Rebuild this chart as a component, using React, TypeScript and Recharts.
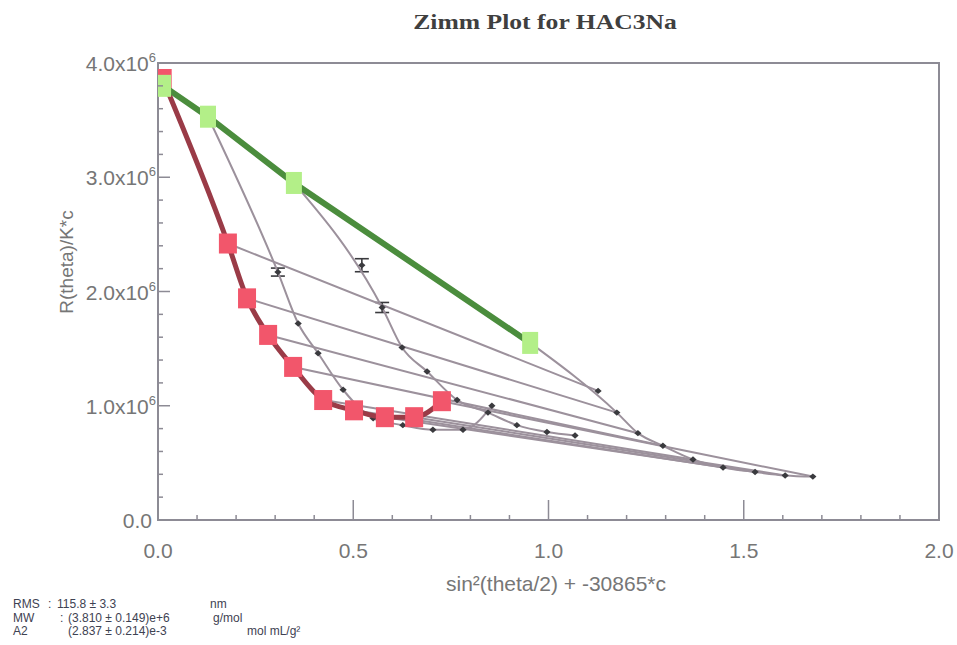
import React from 'react';
import { ComposedChart, Scatter, XAxis, YAxis, ReferenceArea, ErrorBar } from 'recharts';

// x = sin²(θ/2) + k·c,  y = R(θ)/K·c in units of 10⁶

// c → 0 extrapolation: intercept first, then one value per scattering angle
const zeroConcX = [0.012, 0.179, 0.228, 0.282, 0.346, 0.423, 0.502, 0.581, 0.656, 0.727];
const zeroConcY = [3.86, 2.42, 1.94, 1.62, 1.34, 1.05, 0.96, 0.9, 0.9, 1.04];

// θ → 0 extrapolation: intercept first, then one value per concentration
const zeroAngleX = [0.013, 0.128, 0.348, 0.953];
const zeroAngleY = [3.8, 3.53, 2.95, 1.55];

// measured points, nine angles for each of the three concentrations
const conc1X = [0.307, 0.359, 0.41, 0.474, 0.551, 0.627, 0.704, 0.781, 0.855];
const conc1Y = [2.17, 1.72, 1.46, 1.14, 0.89, 0.83, 0.79, 0.79, 1.0];
const conc1Err = [0.035, 0, 0, 0, 0, 0, 0, 0, 0];

const conc2X = [0.522, 0.574, 0.625, 0.689, 0.766, 0.845, 0.919, 0.996, 1.068];
const conc2Y = [2.23, 1.86, 1.51, 1.3, 1.05, 0.94, 0.83, 0.77, 0.74];
const conc2Err = [0.057, 0.044, 0, 0, 0, 0, 0, 0, 0];

const conc3X = [1.127, 1.175, 1.229, 1.293, 1.37, 1.447, 1.529, 1.606, 1.677];
const conc3Y = [1.13, 0.94, 0.76, 0.65, 0.53, 0.46, 0.42, 0.39, 0.38];
const conc3Err = [0, 0, 0, 0, 0, 0, 0, 0, 0];

// first angle used by each concentration fit (earlier angles were left out of the fit)
const concFitFirstAngle = [0, 1, 1];

// axis ticks
const xTicks = [0, 0.1, 0.2, 0.3, 0.4, 0.5, 0.6, 0.7, 0.8, 0.9, 1, 1.1, 1.2, 1.3, 1.4, 1.5, 1.6, 1.7, 1.8, 1.9, 2];
const xMajorTicks = [0, 0.5, 1, 1.5, 2];
const xTickLabels = ['0.0', '0.5', '1.0', '1.5', '2.0'];
const yTicks = [0, 0.2, 0.4, 0.6, 0.8, 1, 1.2, 1.4, 1.6, 1.8, 2, 2.2, 2.4, 2.6, 2.8, 3, 3.2, 3.4, 3.6, 3.8, 4];
const yMajorTicks = [0, 1, 2, 3, 4];
const yTickLabels = ['0.0', '1.0', '2.0', '3.0', '4.0'];
const yExponent = '6';

const TITLE = 'Zimm Plot for HAC3Na';
const X_LABEL = 'sin²(theta/2) + -30865*c';
const Y_LABEL = 'R(theta)/K*c';

const FRAME = '#8d8b95';
const FIT_GRAY = '#9c919c';
const POINT_DARK = '#3a3a3e';
const RED_FILL = '#f2566b';
const RED_LINE = '#9a3b47';
const GREEN_FILL = '#b3ef88';
const GREEN_LINE = '#4b8d3d';
const TICK_TEXT = '#767676';
const SANS = '"Liberation Sans", Arial, sans-serif';

type Pt = { x: number; y: number; e: number };
const zip = (xs: number[], ys: number[], es?: number[]): Pt[] =>
  xs.map((x, i) => ({ x, y: ys[i], e: es ? es[i] : 0 }));

const zeroConc = zip(zeroConcX, zeroConcY);
const zeroAngle = zip(zeroAngleX, zeroAngleY);
const conc = [zip(conc1X, conc1Y, conc1Err), zip(conc2X, conc2Y, conc2Err), zip(conc3X, conc3Y, conc3Err)];

// constant-concentration fits start at their θ → 0 point
const concFits = conc.map((pts, j) => [zeroAngle[j + 1], ...pts.slice(concFitFirstAngle[j])]);
// constant-angle fits run from their c → 0 point to the highest concentration
const angleFits = conc[2].map((p, i) => [zeroConc[i + 1], p]);
const allPoints = conc.flat();
const errPoints = allPoints.filter((p) => p.e > 0);

const noShape = () => <g />;
const dotShape = (p: any) => (
  <path
    d={`M${p.cx - 3.6},${p.cy} L${p.cx},${p.cy - 3.2} L${p.cx + 3.6},${p.cy} L${p.cx},${p.cy + 3.2} Z`}
    fill={POINT_DARK}
  />
);
const redSquare = (p: any) => (
  <rect x={p.cx - 9} y={p.cy - 10} width={18} height={20} fill={RED_FILL} />
);
const greenSquare = (p: any) => (
  <rect x={p.cx - 8} y={p.cy - 11} width={16} height={22} fill={GREEN_FILL} />
);

const XTick = (props: any) => {
  const { x, y, payload } = props;
  const v = payload.value;
  const idx = xMajorTicks.indexOf(v);
  const major = idx >= 0;
  return (
    <g>
      <line x1={x} x2={x} y1={y} y2={y - (major ? 20 : 5)} stroke={FRAME} strokeWidth={1.5} />
      {major && (
        <text x={x} y={y + 38} textAnchor="middle" fill={TICK_TEXT} fontSize={21} fontFamily={SANS}>
          {xTickLabels[idx]}
        </text>
      )}
    </g>
  );
};

const YTick = (props: any) => {
  const { x, y, payload } = props;
  const v = payload.value;
  const idx = yMajorTicks.indexOf(v);
  const major = idx >= 0;
  return (
    <g>
      <line x1={x} x2={x + (major ? 12 : 5)} y1={y} y2={y} stroke={FRAME} strokeWidth={1.5} />
      {major &&
        (v === 0 ? (
          <text x={x - 6} y={y + 8} textAnchor="end" fill={TICK_TEXT} fontSize={21} fontFamily={SANS}>
            {yTickLabels[idx]}
          </text>
        ) : (
          <text x={x - 2} y={y + 8} textAnchor="end" fill={TICK_TEXT} fontSize={21} fontFamily={SANS}>
            {yTickLabels[idx]}x10
            <tspan dy={-9} fontSize={13}>
              {yExponent}
            </tspan>
          </text>
        ))}
    </g>
  );
};

const statRows = [
  { name: 'RMS', sep: ':', sepX: 48, value: '115.8 ± 3.3', valueX: 57, unit: 'nm', unitX: 210 },
  { name: 'MW', sep: ':', sepX: 60, value: '(3.810 ± 0.149)e+6', valueX: 68, unit: 'g/mol', unitX: 213 },
  { name: 'A2', sep: '', sepX: 60, value: '(2.837 ± 0.214)e-3', valueX: 68, unit: 'mol mL/g²', unitX: 247 },
];

export default function App() {
  return (
    <div style={{ position: 'absolute', left: 0, top: 0, width: 957, height: 645, background: '#fff' }}>
      <div
        style={{
          position: 'absolute',
          left: 345,
          top: 10,
          width: 400,
          textAlign: 'center',
          fontFamily: '"Liberation Serif", "Times New Roman", serif',
          fontWeight: 'bold',
          fontSize: 21,
          color: '#3f3f3f',
        }}
      >
        <span style={{ display: 'inline-block', transform: 'scaleX(1.22)' }}>{TITLE}</span>
      </div>

      <ComposedChart
        width={957}
        height={645}
        margin={{ top: 63, right: 18, bottom: 95, left: 0 }}
      >
        <XAxis
          dataKey="x"
          type="number"
          domain={[0, 2]}
          ticks={xTicks}
          interval={0}
          tickSize={0}
          tickMargin={0}
          axisLine={false}
          tickLine={false}
          tick={(p: any) => <XTick {...p} />}
          height={30}
          allowDataOverflow
        />
        <YAxis
          dataKey="y"
          type="number"
          domain={[0, 4]}
          ticks={yTicks}
          interval={0}
          tickSize={0}
          tickMargin={0}
          axisLine={false}
          tickLine={false}
          tick={(p: any) => <YTick {...p} />}
          width={158}
          allowDataOverflow
        />
        <ReferenceArea x1={0} x2={2} y1={0} y2={4} fill="none" stroke={FRAME} strokeWidth={2} ifOverflow="visible" />

        {angleFits.map((pts, i) => (
          <Scatter
            key={'a' + i}
            data={pts}
            line={{ stroke: FIT_GRAY, strokeWidth: 2 }}
            lineJointType="linear"
            shape={noShape}
            isAnimationActive={false}
          />
        ))}
        {concFits.map((pts, j) => (
          <Scatter
            key={'c' + j}
            data={pts}
            line={{ stroke: FIT_GRAY, strokeWidth: 2 }}
            lineJointType="monotoneX"
            shape={noShape}
            isAnimationActive={false}
          />
        ))}
        <Scatter data={allPoints} shape={dotShape} isAnimationActive={false} />
        <Scatter data={errPoints} shape={noShape} isAnimationActive={false}>
          <ErrorBar dataKey="e" direction="y" width={7} stroke={POINT_DARK} strokeWidth={1.6} />
        </Scatter>

        <Scatter
          data={zeroConc}
          line={{ stroke: RED_LINE, strokeWidth: 5 }}
          lineJointType="monotoneX"
          shape={redSquare}
          isAnimationActive={false}
        />
        <Scatter
          data={zeroAngle}
          line={{ stroke: GREEN_LINE, strokeWidth: 6 }}
          lineJointType="linear"
          shape={greenSquare}
          isAnimationActive={false}
        />
      </ComposedChart>

      <div
        style={{
          position: 'absolute',
          left: 556 - 200,
          top: 572,
          width: 400,
          textAlign: 'center',
          fontFamily: SANS,
          fontSize: 21,
          color: TICK_TEXT,
        }}
      >
        {X_LABEL}
      </div>
      <div
        style={{
          position: 'absolute',
          left: 67 - 100,
          top: 262 - 13,
          width: 200,
          height: 26,
          lineHeight: '26px',
          textAlign: 'center',
          fontFamily: SANS,
          fontSize: 19,
          color: TICK_TEXT,
          transform: 'rotate(-90deg)',
        }}
      >
        {Y_LABEL}
      </div>

      {statRows.map((r, i) => (
        <div
          key={r.name}
          style={{
            position: 'absolute',
            left: 0,
            top: 597 + i * 13.5,
            width: 400,
            height: 14,
            fontFamily: SANS,
            fontSize: 12,
            lineHeight: '14px',
            color: '#3e4252',
          }}
        >
          <span style={{ position: 'absolute', left: 13 }}>{r.name}</span>
          <span style={{ position: 'absolute', left: r.sepX }}>{r.sep}</span>
          <span style={{ position: 'absolute', left: r.valueX }}>{r.value}</span>
          <span style={{ position: 'absolute', left: r.unitX }}>{r.unit}</span>
        </div>
      ))}
    </div>
  );
}
